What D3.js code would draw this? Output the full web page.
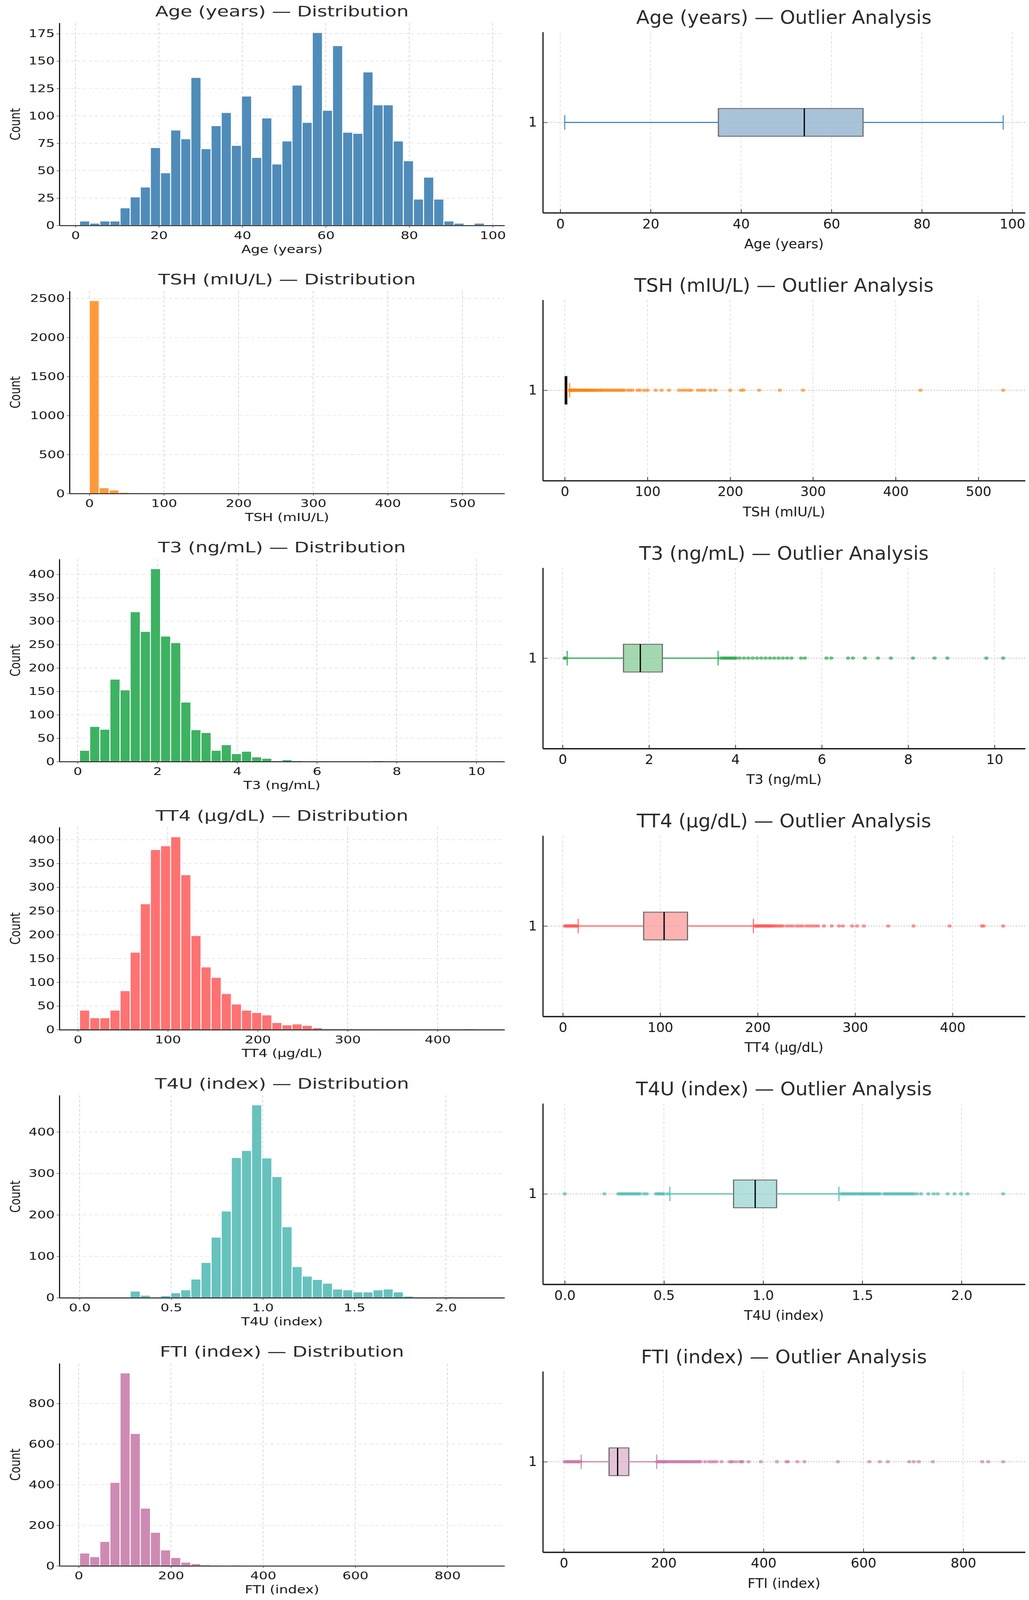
<!DOCTYPE html>
<html>
<head>
<meta charset="utf-8">
<script src="https://cdn.jsdelivr.net/npm/d3@7"></script>
<style>
html, body{margin:0;padding:0;background:#fff;overflow:hidden;}
#chart svg{display:block;width:100vw;height:100vh;}
</style>
</head>
<body>
<div id="chart"></div>
<script>

/* Data */

var labels = ["Age (years)", "TSH (mIU/L)", "T3 (ng/mL)", "TT4 (μg/dL)", "T4U (index)", "FTI (index)"];

// min / max of each variable (bins and boxplot span)
var ranges = [[1, 98], [0.005, 530], [0.05, 10.2], [2, 452], [0, 2.21], [2, 880]];

// 40-bin histogram counts
var ageCounts = [4,2,4,4,16,26,35,71,48,87,79,135,70,91,103,73,118,62,98,56,77,128,94,176,105,164,85,84,140,110,110,77,59,24,44,24,4,2,0,2];
var tshCounts = [2472,74,44,15,11,6,3,2,2,1,2,3,3,2,0,1,2,1,0,1,0,1,0,0,0,0,0,0,0,0,0,0,1,0,0,0,0,0,0,1];
var t3Counts = [24,75,69,176,153,320,278,412,268,254,127,68,62,24,36,17,22,10,7,2,4,2,0,1,1,1,1,1,1,2,0,1,0,1,1,0,0,0,1,1];
var tt4Counts = [41,25,25,41,82,163,265,379,387,406,326,198,132,110,76,54,41,36,31,15,10,12,9,4,2,2,2,1,0,1,0,1,0,0,0,1,0,0,2,1];
var t4uCounts = [1,0,0,1,0,16,6,1,5,12,19,45,85,146,209,338,355,465,337,292,171,75,52,44,35,21,19,14,14,19,21,14,4,2,2,1,2,0,0,1];
var ftiCounts = [63,45,120,411,950,652,284,165,78,41,18,11,5,4,1,4,3,1,0,1,2,2,0,0,1,0,0,1,1,1,0,2,1,1,0,0,0,0,2,1];

// boxplot: [lower whisker, q1, median, q3, upper whisker]
var ageBox = [1, 35, 54, 67, 98];
var tshBox = [0.005, 0.45, 1.4, 2.7, 6.0];
var t3Box = [0.107, 1.41, 1.80, 2.31, 3.6];
var tt4Box = [15.8, 83, 104, 128, 195.6];
var t4uBox = [0.53, 0.851, 0.96, 1.068, 1.382];
var ftiBox = [34.9, 90.8, 107.9, 130.3, 186.2];

// fliers
var ageOut = [];
var tshOut = [6.2,6.5,6.8,7.1,7.5,7.9,8.3,8.7,9.2,9.8,10.4,11,11.7,12.4,13,14,15,16,17,18,19,20,21,22,23,24,25,26,27,28,29,30,31,32,34,35,36,38,39,41,43,44,46,48,50,52,54,56,58,60,62,64,66,68,70,72,76,79,82,88,91,96,100,110,117,126,138,142,146,150,153,161,165,169,176,182,200,213,216,235,260,288,430,530];
var t3Out = [0.05,0.06,3.65,3.7,3.74,3.78,3.82,3.86,3.9,3.94,3.98,4.02,4.1,4.2,4.3,4.4,4.5,4.6,4.7,4.8,4.9,5.0,5.1,5.2,5.3,5.52,5.61,6.11,6.22,6.61,6.72,7.0,7.3,7.6,8.11,8.61,8.91,9.81,10.2];
var tt4Out = [2,3,4,5,6,7,8,9,10,11,12,13,14,15,197,198,199,200,201,202,203,204,205,206,207,208,209,210,211,212,213,214,215,217,218,220,222,224,226,230,233,236,240,243,246,250,253,256,259,262,268,276,283.5,287.5,297,302,309,334,360,397,430,432,452];
var t4uOut = [0.0,0.2,0.27,0.28,0.29,0.3,0.31,0.32,0.33,0.34,0.35,0.36,0.37,0.38,0.4,0.414,0.46,0.47,0.48,0.49,0.5,0.52,1.39,1.40,1.41,1.42,1.43,1.44,1.45,1.46,1.47,1.48,1.49,1.50,1.51,1.52,1.53,1.54,1.55,1.56,1.57,1.58,1.59,1.61,1.62,1.63,1.64,1.65,1.66,1.67,1.68,1.69,1.70,1.71,1.72,1.73,1.74,1.75,1.76,1.775,1.796,1.833,1.86,1.88,1.93,1.965,1.998,2.03,2.21];
var ftiOut = [2,4,6,8,10,12,14,16,18,20,22,24,26,28,30,32,34,187,189,191,193,195,197,199,201,203,205,208,211,214,217,220,223,226,229,232,235,238,241,244,247,250,253,256,259,262,265,268,271,274,283,291,296,301,306,316,332,336,338,345,353,356,358,370,395,427,446,449,468,482,549,612,633,649,692,701,711,739,838,850,880];

// tick labels
var ageXTicks = [0,20,40,60,80,100];
var tshXTicks = [0,100,200,300,400,500];
var t3XTicks = [0,2,4,6,8,10];
var tt4XTicks = [0,100,200,300,400];
var t4uXTicks = [0,0.5,1,1.5,2];
var ftiXTicks = [0,200,400,600,800];

var ageYTicks = [0,25,50,75,100,125,150,175];
var tshYTicks = [0,500,1000,1500,2000,2500];
var t3YTicks = [0,50,100,150,200,250,300,350,400];
var tt4YTicks = [0,50,100,150,200,250,300,350,400];
var t4uYTicks = [0,100,200,300,400];
var ftiYTicks = [0,200,400,600,800];

var barColors = ["#508cba", "#ff9a3c", "#3db262", "#ff7272", "#67c2be", "#cd8bb3"];
var boxFills = ["#a8c2d9", "#ffc89a", "#a4d8b0", "#ffb2b2", "#b3e0dd", "#e6c3d8"];
var lineColors = ["#3a80b9", "#ff8410", "#1ea246", "#ff5c5c", "#45bab2", "#c97aa9"];

var counts = [ageCounts, tshCounts, t3Counts, tt4Counts, t4uCounts, ftiCounts];
var boxes = [ageBox, tshBox, t3Box, tt4Box, t4uBox, ftiBox];
var fliers = [ageOut, tshOut, t3Out, tt4Out, t4uOut, ftiOut];
var xTicks = [ageXTicks, tshXTicks, t3XTicks, tt4XTicks, t4uXTicks, ftiXTicks];
var yTicks = [ageYTicks, tshYTicks, t3YTicks, tt4YTicks, t4uYTicks, ftiYTicks];

/* Drawing */

var W = 2635, H = 5301;
var FONT = "DejaVu Sans, sans-serif";
var SQ = 0.8; // right column text is narrower

// drawn in a 2635x5301 frame, stretched to whatever the window really is
var svg = d3.select("#chart").append("svg")
	.attr("viewBox", "0 0 " + W + " " + H)
	.attr("preserveAspectRatio", "none");

svg.append("rect").attr("width", W).attr("height", H).attr("fill", "#fff");

var xFormat = function(i){
	return i == 4 ? d3.format(".1f") : d3.format("d");
}

var xScaleFor = function(i, left, right){
	var r = ranges[i], span = r[1] - r[0];
	return d3.scaleLinear()
		.domain([r[0] - 0.05 * span, r[1] + 0.05 * span])
		.range([left, right]);
}

var drawHist = function(i){
	var top = 76 + 888.2 * i, bottom = 747 + 888.2 * i;
	var left = d3.max(yTicks[i]) >= 1000 ? 178 : 152, right = 1292;
	var x = xScaleFor(i, left, right);
	var c = counts[i];
	var y = d3.scaleLinear().domain([0, d3.max(c) * 1.05]).range([bottom, top]);
	var g = svg.append("g");

	//grid
	g.selectAll("line.vg").data(xTicks[i]).enter().append("line")
		.attr("x1", function(d){return x(d);}).attr("x2", function(d){return x(d);})
		.attr("y1", top).attr("y2", bottom)
		.attr("stroke", "#cfcfcf").attr("stroke-width", 1.6).attr("stroke-dasharray", "9,6");
	g.selectAll("line.hg").data(yTicks[i]).enter().append("line")
		.attr("x1", left).attr("x2", right)
		.attr("y1", function(d){return y(d);}).attr("y2", function(d){return y(d);})
		.attr("stroke", "#dcdcdc").attr("stroke-width", 1.6).attr("stroke-dasharray", "9,6");

	//bars
	var r = ranges[i], w = (r[1] - r[0]) / c.length;
	g.selectAll("rect.bar")
		.data(c.map(function(v, k){ return {v: v, lo: r[0] + k * w, hi: r[0] + (k + 1) * w}; })
			.filter(function(d){ return d.v > 0; }))
		.enter().append("rect")
		.attr("x", function(d){return x(d.lo);})
		.attr("width", function(d){return x(d.hi) - x(d.lo);})
		.attr("y", function(d){return y(d.v);})
		.attr("height", function(d){return bottom - y(d.v);})
		.attr("fill", barColors[i])
		.attr("stroke", "#fff").attr("stroke-width", 2.4);

	//axes
	var ax = g.append("g").attr("transform", "translate(0," + bottom + ")")
		.call(d3.axisBottom(x).tickValues(xTicks[i]).tickFormat(xFormat(i))
			.tickSize(7).tickPadding(13).tickSizeOuter(0));
	var ay = g.append("g").attr("transform", "translate(" + left + ",0)")
		.call(d3.axisLeft(y).tickValues(yTicks[i]).tickFormat(d3.format("d"))
			.tickSize(7).tickPadding(5).tickSizeOuter(0));
	[ax, ay].forEach(function(a){
		a.attr("font-family", FONT).attr("font-size", 35);
		a.select(".domain").attr("stroke", "#1a1a1a").attr("stroke-width", 3);
		a.selectAll(".tick line").attr("stroke", "#444").attr("stroke-width", 1.6);
		a.selectAll(".tick text").attr("fill", "#1a1a1a");
	});

	g.append("text")
		.attr("x", (left + right) / 2).attr("y", top - 22)
		.attr("text-anchor", "middle")
		.attr("font-family", FONT).attr("font-size", 49).attr("fill", "#2b2b2b")
		.text(labels[i] + " — Distribution");
	g.append("text")
		.attr("x", (left + right) / 2).attr("y", bottom + 91)
		.attr("text-anchor", "middle")
		.attr("font-family", FONT).attr("font-size", 36).attr("fill", "#1a1a1a")
		.text(labels[i]);
	g.append("text")
		.attr("transform", "translate(51," + ((top + bottom) / 2) + ") rotate(-90)")
		.attr("text-anchor", "middle")
		.attr("font-family", FONT).attr("font-size", 36).attr("fill", "#1a1a1a")
		.text("Count");
}

var drawBox = function(i){
	var top = 106 + 887.5 * i, bottom = 705 + 887.5 * i;
	var left = 1390, right = 2625, cy = (top + bottom) / 2;
	var x = xScaleFor(i, left, right);
	var y = d3.scaleLinear().domain([0.5, 1.5]).range([bottom, top]);
	var b = boxes[i];
	var col = lineColors[i];
	var g = svg.append("g");

	g.selectAll("line.vg").data(xTicks[i]).enter().append("line")
		.attr("x1", function(d){return x(d);}).attr("x2", function(d){return x(d);})
		.attr("y1", top).attr("y2", bottom)
		.attr("stroke", "#dadada").attr("stroke-width", 1.6).attr("stroke-dasharray", "9,6");

	//box, then the y grid line over it
	g.append("rect")
		.attr("x", x(b[1])).attr("width", Math.max(x(b[3]) - x(b[1]), 1))
		.attr("y", cy - 46).attr("height", 92)
		.attr("fill", boxFills[i])
		.attr("stroke", "#6e6e6e").attr("stroke-width", 3);
	g.append("line")
		.attr("x1", left).attr("x2", right).attr("y1", y(1)).attr("y2", y(1))
		.attr("stroke", "#b5b5b5").attr("stroke-width", 2.4).attr("stroke-dasharray", "3,4");

	//whiskers and caps
	g.selectAll("line.wh").data([[b[0], b[1]], [b[3], b[4]]]).enter().append("line")
		.attr("x1", function(d){return x(d[0]);}).attr("x2", function(d){return x(d[1]);})
		.attr("y1", cy).attr("y2", cy)
		.attr("stroke", col).attr("stroke-width", 3.4);
	g.selectAll("line.cap").data([b[0], b[4]]).enter().append("line")
		.attr("x1", function(d){return x(d);}).attr("x2", function(d){return x(d);})
		.attr("y1", cy - 24).attr("y2", cy + 24)
		.attr("stroke", col).attr("stroke-width", 2.4);

	g.append("line")
		.attr("x1", x(b[2])).attr("x2", x(b[2]))
		.attr("y1", cy - 46).attr("y2", cy + 46)
		.attr("stroke", "#000").attr("stroke-width", i == 1 ? 5 : 3.2);

	//fliers
	g.selectAll("circle").data(fliers[i]).enter().append("circle")
		.attr("cx", function(d){return x(d);})
		.attr("cy", cy)
		.attr("r", 5.5)
		.attr("fill", col).attr("fill-opacity", 0.65);

	var ax = g.append("g").attr("transform", "translate(0," + bottom + ")")
		.call(d3.axisBottom(x).tickValues(xTicks[i]).tickFormat(xFormat(i))
			.tickSize(-12).tickPadding(21).tickSizeOuter(0));
	var ay = g.append("g").attr("transform", "translate(" + left + ",0)")
		.call(d3.axisLeft(y).tickValues([1]).tickFormat(d3.format("d"))
			.tickSize(-12).tickPadding(19).tickSizeOuter(0));
	ax.select(".domain").attr("stroke", "#1a1a1a").attr("stroke-width", 4.5);
	ay.select(".domain").attr("stroke", "#1a1a1a").attr("stroke-width", 3);
	[ax, ay].forEach(function(a){
		a.attr("font-family", FONT).attr("font-size", 43);
		a.selectAll(".tick line").attr("stroke", "#333").attr("stroke-width", 2);
		a.selectAll(".tick text").attr("fill", "#1a1a1a").attr("transform", "scale(" + SQ + ",1)");
	});

	g.append("text")
		.attr("transform", "translate(" + ((left + right) / 2) + "," + (top - 27) + ") scale(" + SQ + ",1)")
		.attr("text-anchor", "middle")
		.attr("font-family", FONT).attr("font-size", 62).attr("fill", "#2b2b2b")
		.text(labels[i] + " — Outlier Analysis");
	g.append("text")
		.attr("transform", "translate(" + ((left + right) / 2) + "," + (bottom + 118) + ") scale(" + SQ + ",1)")
		.attr("text-anchor", "middle")
		.attr("font-family", FONT).attr("font-size", 44).attr("fill", "#1a1a1a")
		.text(labels[i]);
}

labels.forEach(function(name, i){
	drawHist(i);
	drawBox(i);
});

</script>
</body>
</html>
